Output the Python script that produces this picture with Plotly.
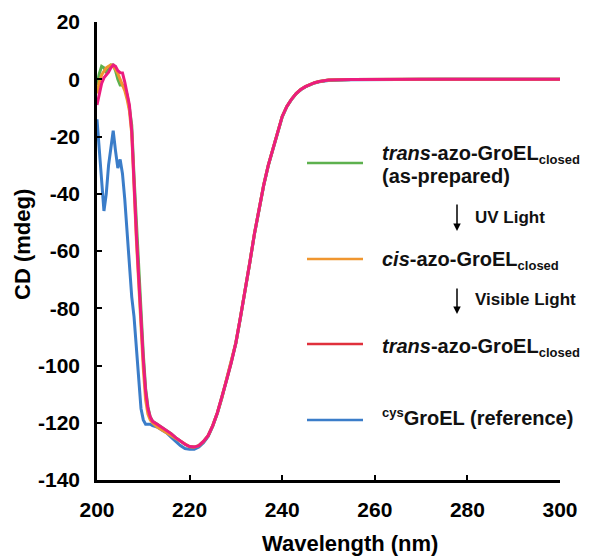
import plotly.graph_objects as go

# ---- data ----
wl_start = [200, 200.5, 201, 201.5, 202, 202.5, 203, 203.5, 204, 204.5, 205, 205.5,
            206, 206.5, 207, 207.5, 208, 208.5, 209, 209.5, 210, 210.5, 211, 211.5, 212]
wl_mid = list(range(213, 251))
wl_tail = [255, 260, 265, 270, 275, 280, 285, 290, 295, 300]
wavelength = wl_start + wl_mid + wl_tail

trans_prepared = [-2, 2, 4.5, 4, 2.5, 3.5, 5, 5, 3, 0, -2, -2, -3, -5.5, -10, -16, -34, -50, -66, -81, -96, -108, -114.5, -118, -119.5,
                  -120.5, -121.5, -122.5, -123.8, -125.2, -126.5, -127.5, -128.3, -128.5, -128, -126.5, -124.5, -121, -116.5, -111, -105,
                  -99, -92, -83, -74, -64, -54, -45, -37, -30, -24, -18, -13, -9.5, -7, -5, -3.6, -2.6, -1.8, -1.2, -0.8, -0.5, -0.3,
                  -0.1, 0, 0, 0, 0, 0, 0, 0, 0, 0]

cis_closed = [-5, -1, 1.5, 3, 4, 4.5, 5, 4.5, 3.5, 2, 0, -2, -4, -7, -11, -19, -39, -56, -71, -87, -101, -112, -117, -119, -120,
              -121.5, -122.5, -123.5, -124.5, -125.5, -126.6, -127.6, -128.4, -128.5, -128, -126.5, -124.5, -121, -116.5, -111, -105,
              -99, -92, -83, -74, -64, -54, -45, -37, -30, -24, -18, -13, -9.5, -7, -5, -3.6, -2.6, -1.8, -1.2, -0.8, -0.5, -0.3,
              -0.1, 0, 0, 0, 0, 0, 0, 0, 0, 0]

trans_closed = [-9, -5, -1.5, 0.5, 1.5, 2.5, 4, 5, 4.5, 3, 2.3, 2.2, -1, -5, -9, -18, -38, -54, -69, -84, -98, -109, -115, -118, -119.5,
                -120.5, -121.5, -122.5, -123.8, -125.2, -126.5, -127.5, -128.3, -128.5, -128, -126.5, -124.5, -121, -116.5, -111, -105,
                -99, -92, -83, -74, -64, -54, -45, -37, -30, -24, -18, -13, -9.5, -7, -5, -3.6, -2.6, -1.8, -1.2, -0.8, -0.5, -0.3,
                -0.1, 0, 0, 0, 0, 0, 0, 0, 0, 0]

cys_groel = [-14, -25, -38, -46, -40, -30, -24, -18, -25, -31, -28, -33, -42, -54, -65, -76, -83, -93, -105, -115, -119, -120.5, -120.5, -120.5, -121,
             -121.5, -122.5, -123.5, -125, -126.5, -128, -129, -129.3, -129.3, -128.5, -127, -124.8, -121.2, -116.7, -111.2, -105.2,
             -99.2, -92.2, -83.2, -74.2, -64.2, -54.2, -45.2, -37.2, -30.2, -24.2, -18.2, -13.2, -9.6, -7.1, -5.1, -3.7, -2.7, -1.9, -1.3, -0.9, -0.6, -0.4,
             -0.2, -0.1, 0, 0, 0, 0, 0, 0, 0, 0]

x_ticks = [200, 220, 240, 260, 280, 300]
y_ticks = [20, 0, -20, -40, -60, -80, -100, -120, -140]

# ---- styling ----
FONT = "Liberation Sans"
C_GREEN = "#5DB14E"
C_ORANGE = "#F0962F"
C_PINK = "#EC1C7E"
C_RED = "#E0303C"
C_BLUE = "#3B7DC9"

OFF = 8  # page body margin of the html page
W, H = 590 - OFF, 558 - OFF
L, T = 97 - OFF, 22 - OFF
R = W - (560 - OFF)
B = H - (480 - OFF)
PW, PH = W - L - R, H - T - B


def px(xp):
    # xp given in screenshot pixels
    return (xp - OFF - L) / PW


def py(yp):
    return (H - B - (yp - OFF)) / PH


fig = go.Figure()
for vals, col in [(cys_groel, C_BLUE), (trans_prepared, C_GREEN), (cis_closed, C_ORANGE), (trans_closed, C_PINK)]:
    fig.add_trace(go.Scatter(x=wavelength, y=vals, mode="lines",
                             line=dict(color=col, width=3), showlegend=False,
                             hoverinfo="skip"))

axis_common = dict(showline=True, linecolor="black", linewidth=2.5, ticks="inside",
                   ticklen=5, tickwidth=2, tickcolor="black", showgrid=False, zeroline=False,
                   tickfont=dict(family=FONT, size=21, color="black", weight="bold"))

fig.update_xaxes(range=[200, 300], tickvals=x_ticks, ticktext=[str(v) for v in x_ticks],
                 ticklabelstandoff=9, **axis_common)
fig.update_yaxes(range=[-140, 20], tickvals=y_ticks, ticktext=[str(v) for v in y_ticks],
                 ticklabelstandoff=10, **axis_common)

shapes = []
for yline, col in [(163, C_GREEN), (259, C_ORANGE), (344, C_RED), (420, C_BLUE)]:
    shapes.append(dict(type="line", xref="paper", yref="paper", x0=px(307), x1=px(363),
                       y0=py(yline), y1=py(yline), line=dict(color=col, width=2.5)))

lf = dict(family=FONT, size=20, color="#111111", weight="bold")
sf = dict(family=FONT, size=17, color="#111111", weight="bold")
SUB = '<sub><span style="font-size:13px">closed</span></sub>'
annotations = [
    dict(text="<i>trans</i>-azo-GroEL" + SUB, x=px(380), y=py(155), font=lf),
    dict(text="(as-prepared)", x=px(380), y=py(176), font=lf),
    dict(text="<i>cis</i>-azo-GroEL" + SUB, x=px(380), y=py(261), font=lf),
    dict(text="<i>trans</i>-azo-GroEL" + SUB, x=px(380), y=py(347), font=lf),
    dict(text='<sup><span style="font-size:13px">cys</span></sup>GroEL (reference)', x=px(380), y=py(417), font=lf),
    dict(text="UV Light", x=px(473), y=py(217), font=sf),
    dict(text="Visible Light", x=px(473), y=py(299), font=sf),
]
for a in annotations:
    a.update(xref="paper", yref="paper", xanchor="left", yanchor="middle", showarrow=False)

for y_tail, y_head in [(203, 231), (287, 314)]:
    annotations.append(dict(xref="paper", yref="paper", x=px(457), y=py(y_head),
                            axref="pixel", ayref="pixel", ax=0, ay=-(y_head - y_tail),
                            text="", showarrow=True, arrowhead=2, arrowsize=1,
                            arrowwidth=1.5, arrowcolor="black"))

annotations.append(dict(text="Wavelength (nm)", xref="paper", yref="paper", x=px(350), y=py(543),
                        xanchor="center", yanchor="middle", showarrow=False,
                        font=dict(family=FONT, size=22, color="black", weight="bold")))
annotations.append(dict(text="CD (mdeg)", xref="paper", yref="paper", x=px(22), y=py(245),
                        xanchor="center", yanchor="middle", showarrow=False, textangle=-90,
                        font=dict(family=FONT, size=22, color="black", weight="bold")))

fig.update_layout(width=W, height=H, margin=dict(l=L, r=R, t=T, b=B, autoexpand=False),
                  plot_bgcolor="white", paper_bgcolor="white",
                  shapes=shapes, annotations=annotations)

fig.write_html("out.html")
